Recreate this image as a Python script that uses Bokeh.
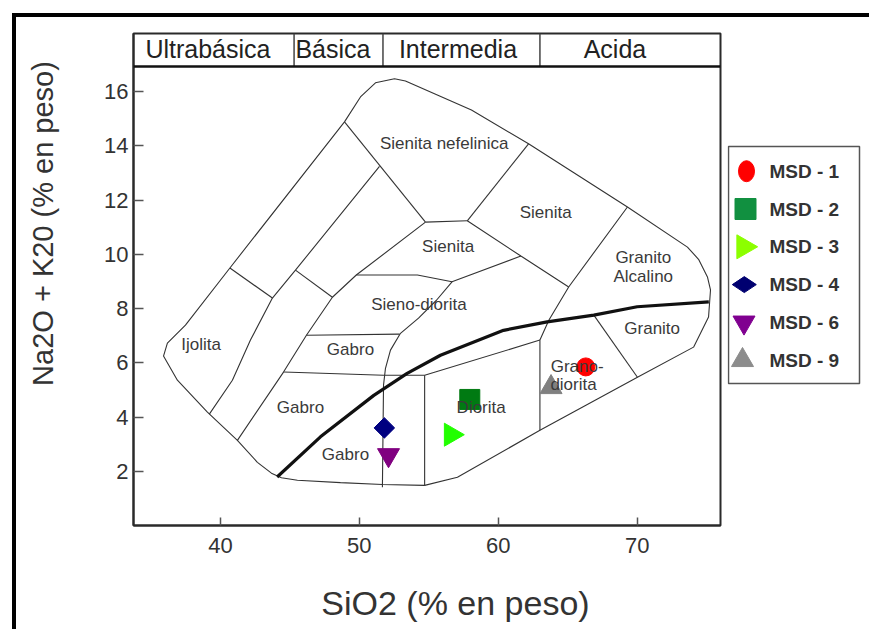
import math

from bokeh.core.properties import value
from bokeh.embed import file_html
from bokeh.layouts import column, row
from bokeh.models import Div, FixedTicker, Range1d, Spacer, Span
from bokeh.plotting import figure
from bokeh.resources import INLINE

FONT = "Liberation Sans"

# --- Samples (SiO2 vs total alkalis, wt %) ---------------------------------
samples = ["MSD - 1", "MSD - 2", "MSD - 3", "MSD -  4", "MSD - 6", "MSD - 9"]
sio2 = [66.3, 57.95, 56.6, 51.8, 52.1, 63.8]
alkalis = [5.85, 4.65, 3.35, 3.6, 2.6, 5.1]
sample_markers = ["circle", "square", "triangle", "square", "inverted_triangle", "triangle"]
sample_colors = ["#ff0000", "#007a12", "#22ff00", "#000080", "#800080", "#808080"]
legend_colors = ["#ff0000", "#119040", "#8cff00", "#000070", "#800090", "#8c8c8c"]

# --- TAS field diagram (plutonic nomenclature) ------------------------------
envelope_sio2 = [54.7, 57.06, 63.0, 70.02, 74.06, 75.14, 75.28, 75.06, 74.42, 73.62,
                 69.30, 62.18, 58.07, 53.32, 52.53, 51.16, 50.08, 48.93, 40.68, 37.48,
                 36.18, 35.90, 36.90, 39.06, 41.22, 42.66, 43.67, 44.39, 45.54, 48.64,
                 51.66, 54.7]
envelope_alk = [1.48, 1.78, 3.51, 5.47, 6.58, 7.69, 8.69, 9.17, 9.82, 10.27,
                11.75, 14.08, 15.33, 16.40, 16.48, 16.33, 15.81, 14.89, 9.50, 7.39,
                6.73, 6.25, 5.36, 4.18, 3.14, 2.33, 1.93, 1.76, 1.67, 1.58,
                1.51, 1.48]

boundary_sio2 = [
    [48.93, 54.76],
    [51.45, 45.40, 43.74, 42.16, 40.86, 39.2],
    [40.68, 43.74],
    [45.40, 48.06],
    [54.76, 49.78, 48.06, 46.19, 44.54, 41.22],
    [49.78, 54.18, 56.67, 61.63],
    [54.76, 57.77],
    [57.77, 61.63, 65.07],
    [57.77, 62.18],
    [69.30, 65.07, 63.64, 63.0, 63.0],
    [56.67, 55.55, 54.26, 52.96, 52.24, 51.88, 51.74, 51.66],
    [46.19, 52.89],
    [44.54, 51.74, 54.7, 63.0],
    [54.7, 54.7],
    [66.88, 70.02],
]
boundary_alk = [
    [14.89, 11.19],
    [13.25, 9.42, 8.39, 6.84, 5.36, 4.11],
    [9.50, 8.39],
    [9.42, 8.42],
    [11.19, 9.24, 8.42, 7.02, 5.66, 3.14],
    [9.24, 9.24, 8.99, 9.94],
    [11.19, 11.24],
    [11.24, 9.94, 8.80],
    [11.24, 14.08],
    [11.75, 8.80, 7.57, 6.84, 3.51],
    [8.99, 8.31, 7.65, 7.09, 6.47, 5.80, 5.18, 1.41],
    [7.02, 7.06],
    [5.66, 5.54, 5.54, 6.84],
    [5.54, 1.48],
    [7.76, 5.47],
]

# Alkaline / subalkaline divide
divide_sio2 = [44.08, 47.20, 51.04, 53.44, 55.84, 60.38, 63.52, 66.88, 70.0, 75.16]
divide_alk = [1.79, 3.27, 4.80, 5.61, 6.28, 7.20, 7.51, 7.76, 8.07, 8.25]

field_names = ["Sienita nefelinica", "Sienita", "Sienita", "Granito", "Alcalino",
               "Sieno-diorita", "Gabro", "Ijolita", "Gabro", "Gabro", "Diorita",
               "Granito", "Grano-", "diorita"]
field_sio2 = [56.11, 63.41, 56.39, 70.44, 70.44, 54.29, 49.36, 38.61, 45.76, 49.0,
              58.77, 71.08, 65.68, 65.42]
field_alk = [14.09, 11.53, 10.28, 9.89, 9.20, 8.17, 6.49, 6.69, 4.37, 2.63, 4.37,
             7.27, 5.87, 5.21]

# Silica classes along the top
class_names = ["Ultrabásica", "Básica", "Intermedia", "Acida"]
class_edges = [45.3, 51.7, 63.0]
class_label_sio2 = [39.1, 48.1, 57.1, 68.4]

x_ticks = [40, 50, 60, 70]
y_ticks = [2, 4, 6, 8, 10, 12, 14, 16]

X_MIN, X_MAX = 33.74, 76.0
Y_MIN, Y_MAX = 0.0, 18.15
BAND_BASE = 16.93

# page geometry (pixels); plots in one row share the same frame top/bottom
PAGE_W, PAGE_H = 869, 629
BODY_TOP = 17                      # below the black page rule
FRAME_LEFT, FRAME_RIGHT = 133, 720
FRAME_TOP, FRAME_BOTTOM = 33, 525
YTITLE_LEFT, MAIN_LEFT = 16, 76
LEGEND_LEFT = 727
XTITLE_H = 60
UPPER_H = PAGE_H - BODY_TOP - XTITLE_H
BORDER_TOP = FRAME_TOP - BODY_TOP
BORDER_BOTTOM = BODY_TOP + UPPER_H - FRAME_BOTTOM


def bare_panel(x0, x1, y_top, y_bottom, width, height, borders):
    """A plot without axes whose data coordinates are page pixels."""
    f = figure(width=width, height=height, x_range=Range1d(x0, x1),
               y_range=Range1d(y_bottom, y_top), output_backend="svg",
               toolbar_location=None, x_axis_type=None, y_axis_type=None,
               min_border_left=borders[0], min_border_right=borders[1],
               min_border_top=borders[2], min_border_bottom=borders[3])
    f.grid.visible = False
    f.outline_line_color = None
    f.background_fill_color = "white"
    f.border_fill_color = "white"
    return f


# --- Main diagram -----------------------------------------------------------
p = figure(width=LEGEND_LEFT - MAIN_LEFT, height=UPPER_H, x_range=Range1d(X_MIN, X_MAX),
           y_range=Range1d(Y_MIN, Y_MAX), output_backend="svg",
           toolbar_location=None, min_border_left=FRAME_LEFT - MAIN_LEFT,
           min_border_right=LEGEND_LEFT - FRAME_RIGHT,
           min_border_top=BORDER_TOP, min_border_bottom=BORDER_BOTTOM)
p.background_fill_color = "white"
p.border_fill_color = "white"
p.grid.visible = False
p.outline_line_color = "#2a2a2a"
p.outline_line_width = 2

p.xaxis.ticker = FixedTicker(ticks=x_ticks)
p.yaxis.ticker = FixedTicker(ticks=y_ticks)
for ax in (p.xaxis[0], p.yaxis[0]):
    ax.axis_line_color = "#2a2a2a"
    ax.axis_line_width = 2
    ax.major_tick_out = 0
    ax.minor_tick_line_color = None
    ax.major_tick_line_color = "#555555"
    ax.major_tick_line_width = 1.5
    ax.major_label_text_font = FONT
    ax.major_label_text_font_size = "22px"
    ax.major_label_text_color = "#333333"
p.xaxis.major_tick_in = 8
p.yaxis.major_tick_in = 10
p.xaxis.major_label_standoff = 12
p.yaxis.major_label_standoff = 5

# field boundaries
p.line(envelope_sio2, envelope_alk, line_color="#333333", line_width=1.1)
p.multi_line(boundary_sio2, boundary_alk, line_color="#333333", line_width=1.1)
p.line(divide_sio2, divide_alk, line_color="#111111", line_width=3.2)

# silica class band above the diagram
p.segment(x0=class_edges, y0=[BAND_BASE] * 3, x1=class_edges, y1=[Y_MAX] * 3,
          line_color="#444444", line_width=1.5)
p.add_layout(Span(location=BAND_BASE, dimension="width", line_color="#111111",
                  line_width=2.5))
p.text(x=class_label_sio2, y=[17.56] * 4, text=class_names,
       text_font=value(FONT), text_font_size="25px", text_color="#222222",
       text_align="center", text_baseline="middle")

# samples
for i in range(len(samples)):
    angle = 0.0
    size = 20
    if sample_markers[i] == "circle":
        size = 18
    elif i == 2:
        angle, size = -math.pi / 2, 23
    elif i == 3:
        angle, size = math.pi / 4, 14.5
    elif sample_markers[i] in ("triangle", "inverted_triangle"):
        size = 22
    p.scatter([sio2[i]], [alkalis[i]], marker=sample_markers[i], size=size,
              angle=angle, fill_color=sample_colors[i], line_color=sample_colors[i])

p.text(x=field_sio2, y=field_alk, text=field_names, text_font=value(FONT),
       text_font_size="17px", text_color="#3a3a3a", text_align="center",
       text_baseline="middle")

row_borders = (0, 0, BORDER_TOP, BORDER_BOTTOM)

# --- y-axis title strip -----------------------------------------------------
ytl = bare_panel(YTITLE_LEFT, MAIN_LEFT, FRAME_TOP, FRAME_BOTTOM,
                 MAIN_LEFT - YTITLE_LEFT, UPPER_H, row_borders)
ytl.text(x=[42], y=[223], text=["Na2O + K20 (% en peso)"], angle=math.pi / 2,
         text_font=value(FONT), text_font_size="29px", text_color="#333333",
         text_align="center", text_baseline="middle")

# --- Legend panel -----------------------------------------------------------
leg = bare_panel(LEGEND_LEFT, PAGE_W, FRAME_TOP, FRAME_BOTTOM,
                 PAGE_W - LEGEND_LEFT, UPPER_H, row_borders)
leg.quad(left=728, right=859, top=146, bottom=383, fill_color=None,
         line_color="#555555", line_width=1.5)

row_y = [170.7 + 37.8 * i for i in range(len(samples))]
leg.ellipse(x=746, y=row_y[0], width=16, height=21, fill_color=legend_colors[0],
            line_color=legend_colors[0])
leg_markers = ["square", "triangle", "diamond", "inverted_triangle", "triangle"]
leg_sizes = [21, 24, 24, 22, 22]
leg_angles = [0, -math.pi / 2, math.pi / 2, 0, 0]
leg_x = [745, 743.3, 743.8, 743.5, 742]
for j in range(5):
    leg.scatter([leg_x[j]], [row_y[j + 1]], marker=leg_markers[j], size=leg_sizes[j],
                angle=leg_angles[j], fill_color=legend_colors[j + 1],
                line_color=legend_colors[j + 1])
leg.text(x=[769] * len(samples), y=row_y, text=samples, text_font=value(FONT),
         text_font_style="bold", text_font_size="19px", text_color="#333333",
         text_align="left", text_baseline="middle")

# --- x-axis title strip (frame spans the diagram's frame horizontally) ------
xt_top = BODY_TOP + UPPER_H
xtl = bare_panel(FRAME_LEFT, FRAME_RIGHT, xt_top, xt_top + XTITLE_H,
                 LEGEND_LEFT - MAIN_LEFT, XTITLE_H,
                 (FRAME_LEFT - MAIN_LEFT, LEGEND_LEFT - FRAME_RIGHT, 0, 0))
xtl.text(x=[455], y=[602], text=["SiO2 (% en peso)"], text_font=value(FONT),
         text_font_size="34px", text_color="#333333", text_align="center",
         text_baseline="middle")

# --- Page assembly ----------------------------------------------------------
black = {"background-color": "black"}
top_bar = row(Spacer(width=12, height=4),
              Div(width=PAGE_W - 12, height=4, styles=black, margin=0))
upper = row(ytl, p, leg)
lower = row(Spacer(width=MAIN_LEFT - YTITLE_LEFT, height=XTITLE_H), xtl,
            Spacer(width=PAGE_W - LEGEND_LEFT, height=XTITLE_H))
body = row(Spacer(width=12, height=PAGE_H - BODY_TOP),
           Div(width=4, height=PAGE_H - BODY_TOP, styles=black, margin=0),
           column(upper, lower))
page = column(Spacer(width=PAGE_W, height=13), top_bar, body)

with open("out.html", "w") as f:
    f.write(file_html(page, INLINE))
